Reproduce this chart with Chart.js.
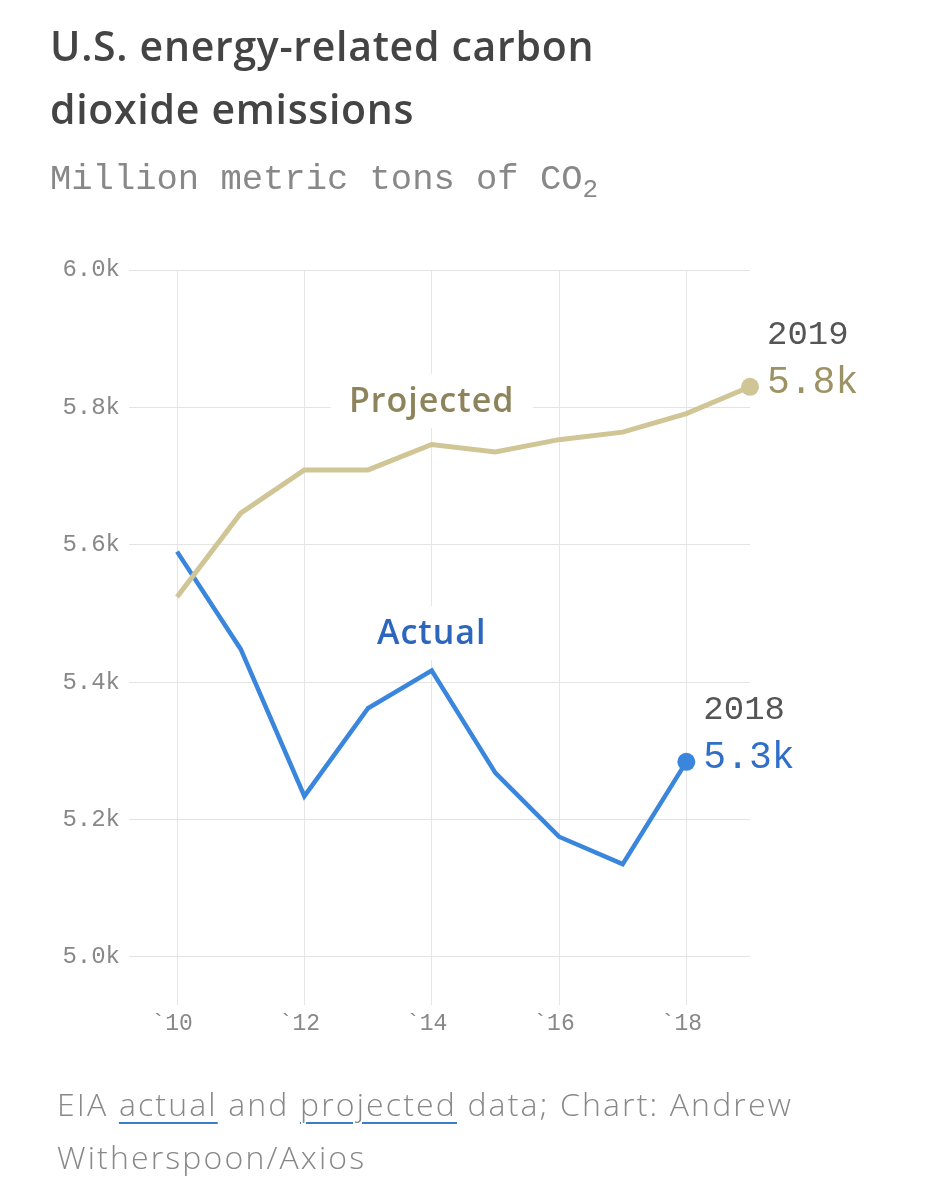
<!DOCTYPE html>
<html>
<head>
<meta charset="utf-8">
<script src="https://cdn.jsdelivr.net/npm/chart.js@4.4.1/dist/chart.umd.min.js"></script>
<style>
  html, body { margin:0; padding:0; background:#fff; }
  #wrap { position:relative; width:945px; height:1200px; overflow:hidden; }
  #c { position:absolute; left:0; top:0; }
  .title { position:absolute; left:50px; top:14px; font-family:"Open Sans", sans-serif; font-weight:600; font-size:41px; line-height:63px; color:#444; white-space:nowrap; letter-spacing:0.7px; }
  .sub { position:absolute; left:50px; top:162px; font-family:"Liberation Mono", monospace; font-size:35.5px; line-height:35px; color:#888; white-space:nowrap; }
  .sub sub { font-size:26px; vertical-align:-8px; line-height:0; }
  .src { position:absolute; left:57px; top:1077px; font-family:"Open Sans", sans-serif; font-weight:300; font-size:32px; line-height:53px; color:#888; white-space:nowrap; letter-spacing:2.15px; }
  .src u { text-decoration:underline; text-decoration-color:#3a7dc9; text-decoration-thickness:2px; text-underline-offset:6px; }
</style>
</head>
<body>
<div id="wrap">
  <canvas id="c" width="945" height="1200"></canvas>
  <div class="title">U.S. energy-related carbon<br>dioxide emissions</div>
  <div class="sub">Million metric tons of CO<sub>2</sub></div>
  <div class="src">EIA <u>actual</u> and <u>projected</u> data; Chart: Andrew<br>Witherspoon/Axios</div>
</div>
<script>
const years = [2010, 2011, 2012, 2013, 2014, 2015, 2016, 2017, 2018, 2019];
const actual = [5590, 5448, 5234, 5362, 5417, 5268, 5175, 5135, 5284, null];
const projected = [5524, 5646, 5709, 5709, 5746, 5735, 5753, 5764, 5791, 5830];
const yTicks = [5000, 5200, 5400, 5600, 5800, 6000];
const xTicks = [2010, 2012, 2014, 2016, 2018];

const ACT_COLOR = '#3a86dc';
const PROJ_COLOR = '#d0c595';

const toPts = arr => years.map((y, i) => ({ x: y, y: arr[i] })).filter(p => p.y !== null);
const lastRadius = (n, r) => Array.from({ length: n }, (_, i) => i === n - 1 ? r : 0);

const actualPts = toPts(actual);
const projPts = toPts(projected);

const labelsPlugin = {
  id: 'labels',
  beforeDatasetsDraw(chart) {
    const { ctx, scales: { x, y } } = chart;
    ctx.save();
    ctx.fillStyle = '#fff';
    const px = x.getPixelForValue(2014);
    ctx.fillRect(px - 101, y.getPixelForValue(5808) - 28, 202, 54);
    ctx.fillRect(px - 75, y.getPixelForValue(5470) - 28, 150, 54);
    ctx.restore();
  },
  afterDatasetsDraw(chart) {
    const { ctx, scales: { x, y } } = chart;
    ctx.save();
    const px = x.getPixelForValue(2014);
    ctx.textAlign = 'center';
    ctx.textBaseline = 'middle';
    ctx.font = '600 34px "Open Sans", sans-serif';
    try { ctx.letterSpacing = '1px'; } catch (e) {}
    ctx.fillStyle = '#8e845c';
    ctx.fillText('Projected', px, y.getPixelForValue(5808));
    ctx.fillStyle = '#2c66bd';
    ctx.fillText('Actual', px, y.getPixelForValue(5470));
    try { ctx.letterSpacing = '0px'; } catch (e) {}

    const ends = [
      { yr: 2019, v: projected[9], col: '#9d9264', label: '5.8k' },
      { yr: 2018, v: actual[8], col: '#2f6fc7', label: '5.3k' }
    ];
    ctx.textAlign = 'left';
    ends.forEach(e => {
      const ex = x.getPixelForValue(e.yr) + 17;
      const ey = y.getPixelForValue(e.v);
      ctx.font = '34px "Liberation Mono", monospace';
      ctx.fillStyle = '#555';
      ctx.fillText(String(e.yr), ex, ey - 52);
      ctx.font = '38px "Liberation Mono", monospace';
      ctx.fillStyle = e.col;
      ctx.fillText(e.label, ex, ey - 4);
    });
    ctx.restore();
  }
};

new Chart(document.getElementById('c'), {
  type: 'line',
  data: {
    datasets: [
      {
        label: 'Projected',
        data: projPts,
        borderColor: PROJ_COLOR,
        backgroundColor: PROJ_COLOR,
        borderWidth: 5,
        pointRadius: lastRadius(projPts.length, 9),
        pointBorderWidth: 0,
        pointHoverRadius: 0,
        tension: 0,
        clip: false
      },
      {
        label: 'Actual',
        data: actualPts,
        borderColor: ACT_COLOR,
        backgroundColor: ACT_COLOR,
        borderWidth: 4.5,
        pointRadius: lastRadius(actualPts.length, 9),
        pointBorderWidth: 0,
        pointHoverRadius: 0,
        tension: 0,
        clip: false
      }
    ]
  },
  options: {
    responsive: false,
    animation: false,
    devicePixelRatio: 1,
    layout: { padding: { top: 270, right: 195, left: 0, bottom: 0 } },
    plugins: { legend: { display: false }, tooltip: { enabled: false } },
    scales: {
      x: {
        type: 'linear',
        min: 2009.245,
        max: 2019,
        afterBuildTicks: s => { s.ticks = xTicks.map(v => ({ value: v })); },
        afterFit: s => { s.height = 195; },
        grid: { color: '#e6e6e6', lineWidth: 1, drawTicks: false },
        border: { display: false },
        ticks: {
          padding: 5,
          labelOffset: -5,
          color: '#888',
          font: { family: '"Liberation Mono", monospace', size: 23 },
          callback: v => '`' + String(v).slice(2)
        }
      },
      y: {
        min: 4930,
        max: 6000,
        afterBuildTicks: s => { s.ticks = yTicks.map(v => ({ value: v })); },
        afterFit: s => { s.width = 129; },
        grid: { color: '#e4e4e4', lineWidth: 1, drawTicks: false },
        border: { display: false },
        ticks: {
          padding: 9,
          color: '#888',
          font: { family: '"Liberation Mono", monospace', size: 24 },
          callback: v => (v / 1000).toFixed(1) + 'k'
        }
      }
    }
  },
  plugins: [labelsPlugin]
});
</script>
</body>
</html>
